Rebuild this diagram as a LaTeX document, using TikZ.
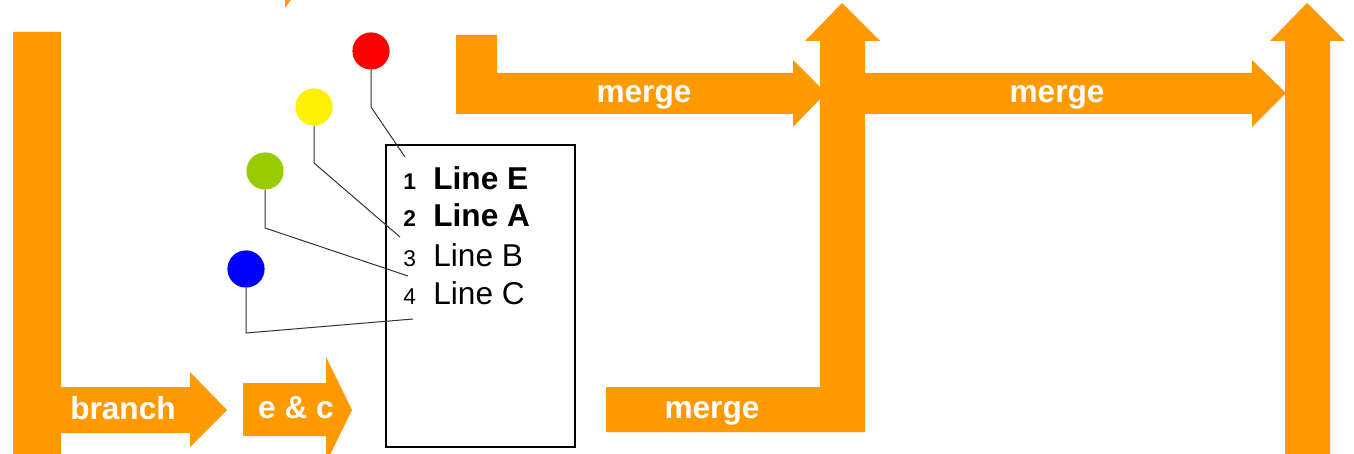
\documentclass[tikz,border=0pt]{standalone}
\usepackage{fontspec}
\setmainfont{Liberation Sans}
\definecolor{floworange}{HTML}{FF9900}
\definecolor{pingreen}{HTML}{99CC00}
\tikzset{
  flow/.style={fill=floworange, draw=none},
  flowlabel/.style={text=white, font=\fontsize{15.8}{18}\selectfont\bfseries, inner sep=0pt, anchor=base},
  pin/.style={circle, draw=none, minimum size=18.6pt, inner sep=0pt},
  stem/.style={draw=black!80, line width=0.5pt},
  num/.style={font=\fontsize{11.4}{13}\selectfont, anchor=base west, inner sep=0pt},
  entry/.style={font=\fontsize{15.8}{18}\selectfont, anchor=base west, inner sep=0pt}
}

\begin{document}
\begin{tikzpicture}[x=0.5pt, y=-0.5pt]
    \useasboundingbox (0,0) rectangle (1354,454);

    % orange flow arrows
    \fill[flow] (285,-3) -- (293,-3) -- (285,8) -- cycle;
    \fill[flow] (13,32) -- (61,32) -- (61,387) -- (190,387) -- (190,372) -- (227,410)
        -- (190,447) -- (190,433) -- (61,433) -- (61,456) -- (13,456) -- cycle;
    \fill[flow] (243,383) -- (326,383) -- (326,357) -- (352,410) -- (326,463)
        -- (326,436) -- (243,436) -- cycle;
    \fill[flow] (456,35) -- (497,35) -- (497,73) -- (793,73) -- (793,60) -- (826,93)
        -- (793,127) -- (793,114) -- (456,114) -- cycle;
    \fill[flow] (606,387) -- (820,387) -- (820,41) -- (805,41) -- (842,3) -- (880,41)
        -- (865,41) -- (865,432) -- (606,432) -- cycle;
    \fill[flow] (865,73) -- (1252,73) -- (1252,60) -- (1286,93) -- (1252,127)
        -- (1252,114) -- (865,114) -- cycle;
    \fill[flow] (1285,456) -- (1285,41) -- (1270,41) -- (1307,3) -- (1345,41)
        -- (1330,41) -- (1330,456) -- cycle;

    \node[flowlabel] (branch) at (123,419) {branch};
    \node[flowlabel] (ec) at (296,418) {e \& c};
    \node[flowlabel] (mergeA) at (644,103) {merge};
    \node[flowlabel] (mergeB) at (712,418) {merge};
    \node[flowlabel] (mergeC) at (1057,103) {merge};

    % list of lines
    \node[draw, line width=1pt, minimum width=94.5pt, minimum height=150.8pt, inner sep=0pt] (list) at (480.4,295.9) {};
    \foreach \n/\txt/\yy/\w in {1/Line E/190/\bfseries, 2/Line A/227/\bfseries, 3/Line B/266/, 4/Line C/304/}
    {
        \node[num] (num\n) at (403,\yy) {\w\n};
        \node[entry] (entry\n) at (433,\yy) {\w\txt};
    }

    % pins
    \foreach \pin/\col/\px/\py/\ky/\ex/\ey in {pinE/red/371/51/107/405/157, pinA/yellow/314/107/163/400/237,
        pinB/pingreen/265/171/228/408/276, pinC/blue/246/269/333/413/319}
    {
        \node[pin, fill=\col] (\pin) at (\px,\py) {};
        \coordinate (\pin knee) at (\px,\ky);
        \coordinate (\pin end) at (\ex,\ey);
        \draw[stem] (\pin.south) -- (\pin knee) -- (\pin end);
    }
\end{tikzpicture}
\end{document}
